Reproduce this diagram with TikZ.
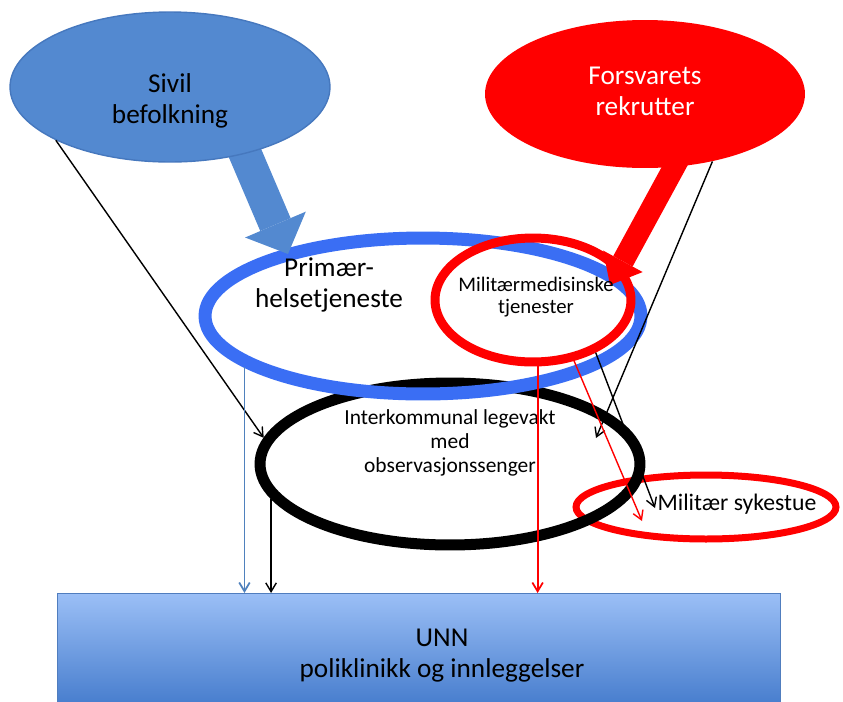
\documentclass[tikz,border=0pt]{standalone}
\usepackage{fontspec}
\setmainfont{Carlito}
\usetikzlibrary{shapes.geometric,arrows.meta}

\definecolor{sivilblue}{RGB}{83,137,208}
\definecolor{siviledge}{RGB}{70,120,190}
\definecolor{ringblue}{RGB}{58,110,244}
\definecolor{lineblue}{RGB}{79,129,189}
\definecolor{unntop}{RGB}{155,191,246}
\definecolor{unnbottom}{RGB}{72,126,206}
\definecolor{unnedge}{RGB}{80,125,190}

\begin{document}
\begin{tikzpicture}[x=0.02cm, y=-0.02cm,
    ring/.style={draw, ellipse, inner sep=0pt},
    bigtext/.style={align=center, font=\fontsize{15.5}{17.6}\selectfont},
    midtext/.style={align=center, font=\fontsize{12.2}{13.6}\selectfont},
    thin arrow/.style={-{Straight Barb[length=5pt,width=6pt]}, line width=0.8pt}]
\useasboundingbox (0,0) rectangle (843,701);

% UNN
\node (unn) [draw=unnedge, rectangle, top color=unntop, bottom color=unnbottom, minimum width=14.46cm, minimum height=2.2cm, anchor=north west] at (57,593) {};

% the rings
\node (sykestue) [ring, draw=red, line width=0.14cm, minimum width=5.2cm, minimum height=1.28cm] at (706,507) {};
\node (legevakt) [ring, line width=0.22cm, minimum width=7.6cm, minimum height=3.24cm] at (450,464) {};
\node (primaer) [ring, draw=ringblue, line width=0.26cm, minimum width=8.72cm, minimum height=3.12cm] at (423,316) {};
\node (milmed) [ring, draw=red, line width=0.18cm, minimum width=3.92cm, minimum height=2.48cm] at (533,300) {};

% fat arrows, under the two top ellipses
\coordinate (sivil tail) at (233,125);
\coordinate (primaer tip) at (288,254);
\draw[sivilblue, line width=0.66cm, -{Triangle[length=0.64cm, width=1.32cm, line width=0pt]}] (sivil tail) -- (primaer tip);
\coordinate (forsvar tail) at (690,138);
\coordinate (milmed tip) at (610,285);
\draw[red, line width=0.44cm, -{Triangle[length=0.54cm, width=0.9cm, line width=0pt]}] (forsvar tail) -- (milmed tip);

\node (sivil) [ellipse, draw=siviledge, fill=sivilblue, line width=0.8pt, minimum width=6.4cm, minimum height=3cm] at (170,87) {};
\node (forsvaret) [ellipse, fill=red, minimum width=6.4cm, minimum height=2.96cm] at (645,94) {};

% texts
\node (sivil text) [bigtext] at (170,101) {Sivil\\befolkning};
\node (forsvar text) [bigtext, text=white] at (645,91) {Forsvarets\\rekrutter};
\node (primaer text) [bigtext] at (329,285) {Primær-\\helsetjeneste};
\node (milmed text) [align=center, font=\fontsize{11.8}{12.8}\selectfont] at (536,297) {Militærmedisinske\\tjenester};
\node (legevakt text) [midtext] at (450,443) {Interkommunal legevakt\\med\\observasjonssenger};
\node (sykestue text) [font=\fontsize{13.5}{15}\selectfont] at (737,504) {Militær sykestue};
\node (unn text) [bigtext] at (442,656) {UNN\\poliklinikk og innleggelser};

% thin arrows
\coordinate (legevakt in) at (596,438);
\coordinate (sykestue in) at (642,521);
\coordinate (sykestue pil) at (655,508);
\draw[thin arrow] (sivil.205) -- (legevakt.172);
\draw[thin arrow] (forsvaret.315) -- (legevakt in);
\draw[thin arrow, lineblue, line width=1pt] (primaer.196) -- (primaer.196 |- unn.north);
\draw[thin arrow] (legevakt.191) -- (legevakt.191 |- unn.north);
\draw[thin arrow, red, line width=1pt] (milmed.274) -- (milmed.274 |- unn.north);
\draw[thin arrow, red] (milmed.304) -- (sykestue in);
\draw[thin arrow] (milmed.320) -- (sykestue pil);
\end{tikzpicture}
\end{document}
